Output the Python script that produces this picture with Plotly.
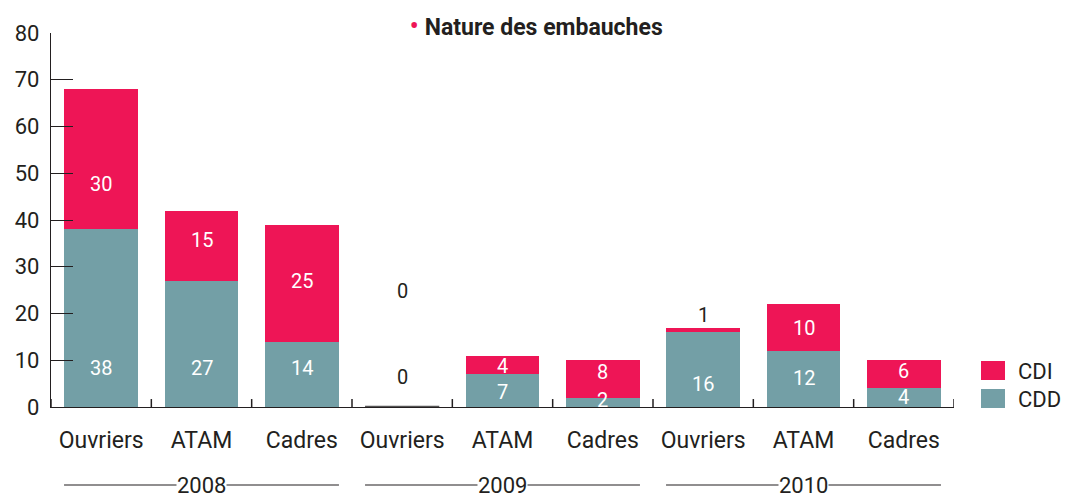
import plotly.graph_objects as go

# ---- data ----
years = ["2008", "2009", "2010"]
groups = ["Ouvriers", "ATAM", "Cadres"]
cdd = [38, 27, 14, 0, 7, 2, 16, 12, 4]
cdi = [30, 15, 25, 0, 4, 8, 1, 10, 6]
# label heights (value units)
label_y_cdd = [8.3, 8.3, 8.3, 6.4, 3.2, 1.5, 4.9, 6.2, 2.1]
label_y_cdi = [47.7, 35.7, 26.9, 24.8, 8.8, 7.5, 19.7, 16.9, 7.7]

PINK = "#EE1556"
TEAL = "#739FA6"
DARK = "#231F20"
FONT = "Roboto"

n = len(cdd)
xidx = list(range(n))
ticktext = [groups[i % 3] for i in range(n)]
boundaries = [i - 0.5 for i in range(n + 1)]

fig = go.Figure()
fig.add_trace(go.Bar(x=xidx, y=cdd, name="CDD", marker=dict(color=TEAL, line=dict(width=0)),
                     showlegend=False, hoverinfo="y+name"))
fig.add_trace(go.Bar(x=xidx, y=cdi, name="CDI", marker=dict(color=PINK, line=dict(width=0)),
                     showlegend=False, hoverinfo="y+name"))

annotations = []
for i in range(n):
    annotations.append(dict(x=i, y=label_y_cdd[i], xref="x", yref="y", text=str(cdd[i]),
                            showarrow=False, font=dict(family=FONT, size=20,
                            color="white" if cdd[i] > 0 else DARK)))
    inside = cdi[i] >= 2
    annotations.append(dict(x=i, y=label_y_cdi[i], xref="x", yref="y", text=str(cdi[i]),
                            showarrow=False, font=dict(family=FONT, size=20,
                            color="white" if inside else DARK)))

shapes = []
# category boundary ticks on the x axis (pointing up, ~8 px)
for b in boundaries:
    shapes.append(dict(type="line", xref="x", yref="y", x0=b, x1=b, y0=0, y1=1.7,
                       line=dict(color=DARK, width=1.5), layer="above"))

# year group labels with lines
half = 0.37
yline = (407 - 485) / 374
for g, yr in enumerate(years):
    x0 = g * 3 - half
    x1 = g * 3 + 2 + half
    shapes.append(dict(type="line", xref="x", yref="paper", x0=x0, x1=x1, y0=yline, y1=yline,
                       line=dict(color=DARK, width=1.2)))
    annotations.append(dict(x=g * 3 + 1, y=yline, xref="x", yref="paper", text=yr, showarrow=False,
                            bgcolor="white", borderpad=0, yanchor="middle",
                            font=dict(family=FONT, size=22, color=DARK)))

# zero-height bar marker line (2009 Ouvriers)
for i in range(n):
    if cdd[i] + cdi[i] == 0:
        shapes.append(dict(type="line", xref="x", yref="y", x0=i - half, x1=i + half, y0=0.15, y1=0.15,
                           line=dict(color="#555555", width=1.2)))

# custom legend (large swatches)
def px2x(px):
    return (px - 51) / 903

def px2y(py):
    return (407 - py) / 374

for name, col, top in [("CDI", PINK, 361), ("CDD", TEAL, 389)]:
    shapes.append(dict(type="rect", xref="paper", yref="paper", x0=px2x(981), x1=px2x(1005),
                       y0=px2y(top + 19), y1=px2y(top), fillcolor=col, line=dict(width=0)))
    annotations.append(dict(xref="paper", yref="paper", x=px2x(1016), y=px2y(top + 10), text=name,
                            showarrow=False, xanchor="left", yanchor="middle",
                            font=dict(family=FONT, size=22, color=DARK)))

fig.update_layout(
    barmode="stack",
    bargap=0.263,
    width=1068, height=497,
    margin=dict(l=51, r=114, t=33, b=90, autoexpand=False),
    plot_bgcolor="white", paper_bgcolor="white",
    title=dict(text=f'<span style="color:{PINK};font-size:28px">•</span> <b>Nature des embauches</b>',
               x=0.502, xanchor="center", y=1 - 27 / 497, yanchor="middle", yref="container",
               font=dict(family=FONT, size=23, color=DARK)),
    xaxis=dict(tickmode="array", tickvals=xidx, ticktext=ticktext, range=[-0.5, n - 0.5],
               ticks="", showline=True, linecolor=DARK, linewidth=1.3, showgrid=False, zeroline=False,
               automargin=False, ticklabelstandoff=12,
               tickfont=dict(family=FONT, size=23, color=DARK)),
    yaxis=dict(range=[0, 80], dtick=10, ticks="inside", ticklen=22, tickcolor=DARK, tickwidth=1.3,
               showline=True, linecolor=DARK, linewidth=1.3, showgrid=False, zeroline=False,
               automargin=False, ticklabelstandoff=6,
               tickfont=dict(family=FONT, size=22, color=DARK)),
    shapes=shapes,
    annotations=annotations,
    showlegend=False,
)

fig.write_html("out.html", config={"displayModeBar": False},
               post_script="document.body.style.margin='0';document.body.style.padding='0';")
